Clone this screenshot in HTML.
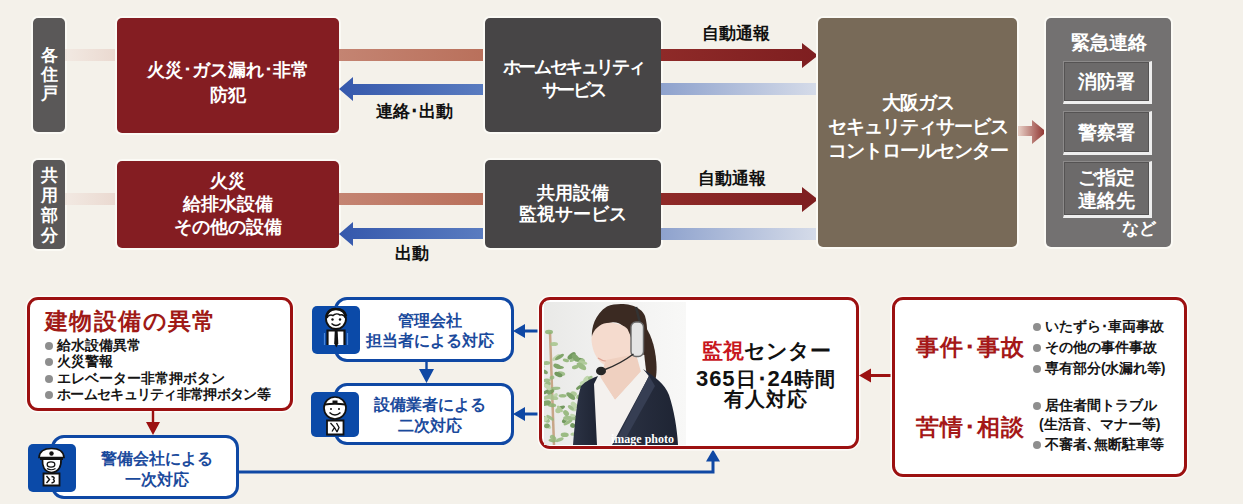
<!DOCTYPE html>
<html lang="ja">
<head>
<meta charset="utf-8">
<style>
html,body{margin:0;padding:0;}
body{width:1243px;height:504px;overflow:hidden;background:#f4f1ea;position:relative;font-family:"Liberation Serif",serif;}
.a{position:absolute;box-sizing:border-box;}
.glow{box-shadow:0 0 0 2px #fbfaf5;}
.lbl{background:#5a5858;border-radius:5px;color:#fff;font-size:17px;line-height:19px;text-align:center;font-weight:bold;}
.redbox{background:#841d22;border-radius:5px;color:#fff;font-size:18px;line-height:25px;font-weight:bold;text-align:center;display:flex;align-items:center;justify-content:center;}
.dkbox{background:#474546;border-radius:5px;color:#fff;font-size:18px;line-height:23px;font-weight:bold;text-align:center;display:flex;align-items:center;justify-content:center;}
.cap{color:#111;font-size:17px;line-height:20px;font-weight:bold;white-space:nowrap;text-align:center;}
.band{height:12px;}
.inner{border-top:1px solid #8c8a8a;border-left:1px solid #8c8a8a;border-right:3px solid #eeeeee;border-bottom:3px solid #eeeeee;box-shadow:inset 1px 1px 0 #555353,inset -1px -1px 0 #555353;background:#6c6a6a;color:#fff;font-size:19px;line-height:23px;font-weight:bold;text-align:center;display:flex;align-items:center;justify-content:center;}
.sans{font-family:"Liberation Sans",sans-serif;}
.rbox{background:#fff;border:3px solid #9c1111;border-radius:11px;box-shadow:0 0 0 1.5px #fdfcf9;}
.bbox{background:#fff;border:3px solid #0f48a4;border-radius:13px;color:#1a4a9c;font-family:"Liberation Sans",sans-serif;font-size:16px;line-height:20.5px;font-weight:bold;text-align:center;display:flex;align-items:center;justify-content:center;}
.icon{background:#1b4f9d;border-radius:6px;}
.blist{font-family:"Liberation Sans",sans-serif;color:#151515;font-size:14px;line-height:16.4px;white-space:nowrap;font-weight:bold;}
.dot{display:inline-block;width:8px;height:8px;border-radius:50%;background:#8e8e8e;margin-right:4px;vertical-align:0px;}
</style>
</head>
<body>

<!-- ===== TOP SECTION ===== -->
<!-- left labels -->
<div class="a lbl glow" style="left:33px;top:18px;width:32px;height:114px;padding-top:28px;">各<br>住<br>戸</div>
<div class="a lbl glow" style="left:33px;top:160px;width:32px;height:89px;padding-top:6px;line-height:20px;">共<br>用<br>部<br>分</div>
<!-- faint bands -->
<div class="a band" style="left:65px;top:49px;width:52px;background:linear-gradient(90deg,#f2e9e2,#ead9d0);"></div>
<div class="a band" style="left:65px;top:193px;width:52px;background:linear-gradient(90deg,#f2e9e2,#ead9d0);"></div>

<!-- red boxes -->
<div class="a redbox glow" style="left:117px;top:18px;width:222px;height:115px;padding-top:15px;">火災･ガス漏れ･非常<br>防犯</div>
<div class="a redbox glow" style="left:117px;top:161px;width:222px;height:87px;line-height:23.2px;">火災<br>給排水設備<br>その他の設備</div>

<!-- salmon bands (red box -> dark box) -->
<div class="a band" style="left:339px;top:49px;width:146px;background:linear-gradient(90deg,#c48472,#b9705b);"></div>
<div class="a band" style="left:339px;top:193px;width:146px;background:linear-gradient(90deg,#c48472,#b9705b);"></div>

<!-- blue arrows left -->
<svg class="a" style="left:338px;top:76px;" width="147" height="26" viewBox="0 0 147 26">
<defs><linearGradient id="bg1" x1="0" x2="1"><stop offset="0" stop-color="#3558ac"/><stop offset="1" stop-color="#5a7cc0"/></linearGradient></defs>
<path d="M1 13 L15 1 L15 8 L147 8 L147 19 L15 19 L15 25 Z" fill="url(#bg1)"/>
</svg>
<svg class="a" style="left:338px;top:221px;" width="147" height="26" viewBox="0 0 147 26">
<path d="M1 13 L15 1 L15 7 L147 7 L147 18 L15 18 L15 25 Z" fill="url(#bg1)"/>
</svg>
<div class="a cap" style="left:364px;top:102px;width:100px;">連絡･出動</div>
<div class="a cap" style="left:362px;top:243.5px;width:100px;">出動</div>

<!-- dark boxes -->
<div class="a dkbox glow" style="left:485px;top:18px;width:176px;height:114px;padding-top:7px;letter-spacing:-2.4px;">ホームセキュリティ<br>サービス</div>
<div class="a dkbox glow" style="left:485px;top:160px;width:176px;height:88px;line-height:21px;">共用設備<br>監視サービス</div>

<!-- red arrows right -->
<svg class="a" style="left:661px;top:42px;" width="158" height="27" viewBox="0 0 158 27">
<defs><linearGradient id="rg1" x1="0" x2="1"><stop offset="0" stop-color="#8e2a28"/><stop offset="1" stop-color="#7e1e20"/></linearGradient></defs>
<path d="M0 7 L141 7 L141 1 L157 13.5 L141 26 L141 19 L0 19 Z" fill="url(#rg1)"/>
</svg>
<svg class="a" style="left:661px;top:186px;" width="158" height="27" viewBox="0 0 158 27">
<path d="M0 7 L141 7 L141 1 L157 13.5 L141 26 L141 19 L0 19 Z" fill="url(#rg1)"/>
</svg>
<div class="a cap" style="left:686px;top:24px;width:100px;">自動通報</div>
<div class="a cap" style="left:682px;top:169px;width:100px;">自動通報</div>

<!-- light blue bands -->
<div class="a band" style="left:661px;top:83px;width:157px;background:linear-gradient(90deg,#8ea2cd,#d6dce9);"></div>
<div class="a band" style="left:661px;top:228px;width:157px;background:linear-gradient(90deg,#8ea2cd,#d6dce9);"></div>

<!-- brown control center -->
<div class="a dkbox glow" style="left:818px;top:18px;width:199px;height:229px;background:#786a58;font-size:19px;line-height:24.3px;padding-bottom:11px;letter-spacing:-1px;">大阪ガス<br>セキュリティサービス<br>コントロールセンター</div>

<!-- arrow to emergency -->
<svg class="a" style="left:1018px;top:119px;" width="29" height="26" viewBox="0 0 29 26">
<defs><linearGradient id="rg2" x1="0" x2="1"><stop offset="0" stop-color="#e9d2c8"/><stop offset="1" stop-color="#8a2a26"/></linearGradient></defs>
<path d="M0 7 L14 7 L14 1 L28.5 13 L14 25 L14 17 L0 17 Z" fill="url(#rg2)"/>
</svg>

<!-- emergency box -->
<div class="a glow" style="left:1046px;top:18px;width:125px;height:229px;background:#737171;border-radius:5px;"></div>
<div class="a" style="left:1046px;top:31px;width:125px;text-align:center;color:#fff;font-size:19px;line-height:24px;font-weight:bold;">緊急連絡</div>
<div class="a inner" style="left:1063px;top:61px;width:89px;height:43px;">消防署</div>
<div class="a inner" style="left:1063px;top:111px;width:89px;height:44px;">警察署</div>
<div class="a inner" style="left:1063px;top:161px;width:89px;height:57px;">ご指定<br>連絡先</div>
<div class="a" style="left:1122px;top:219px;width:44px;color:#fff;font-size:17px;line-height:20px;font-weight:bold;">など</div>

<!-- ===== BOTTOM SECTION ===== -->
<div class="a rbox" style="left:27px;top:297px;width:266px;height:114px;"></div>
<div class="a sans" style="left:45px;top:307px;color:#a01a16;font-size:23px;line-height:28px;font-weight:bold;white-space:nowrap;letter-spacing:1.4px;">建物設備の異常</div>
<div class="a blist" style="left:45px;top:337px;">
<div><span class="dot"></span>給水設備異常</div>
<div><span class="dot"></span>火災警報</div>
<div><span class="dot"></span>エレベーター非常押ボタン</div>
<div style="letter-spacing:-0.7px"><span class="dot"></span>ホームセキュリティ非常押ボタン等</div>
</div>
<!-- red down arrow -->
<svg class="a" style="left:145px;top:410px;" width="16" height="26" viewBox="0 0 16 26">
<path d="M6.8 0 H9.2 V12 H15 L8 25 L1 12 H6.8 Z" fill="#9c1111"/>
</svg>

<!-- blue box 1st response -->
<div class="a bbox" style="left:51px;top:435px;width:188px;height:64px;padding-left:23px;padding-top:4px;line-height:21px;">警備会社による<br>一次対応</div>
<svg class="a" style="left:28px;top:444px;" width="48" height="48" viewBox="0 0 48 48">
<rect width="48" height="48" rx="5" fill="#0b4aa8"/>
<path d="M15.5 29.5 H31.5 V41.5 H15.5 Z" fill="#fff" stroke="#111" stroke-width="1.8"/>
<path d="M18.5 32 L21.5 35.5 L18.5 39 M23.5 32.5 Q27.5 33 25.5 35.5 Q28 38 23.5 39" stroke="#111" stroke-width="1.4" fill="none"/>
<path d="M14.5 15 C14 22 16 28 23.5 28.5 C31 28 33.5 22 33 15 Z" fill="#fff" stroke="#111" stroke-width="1.7"/>
<path d="M11 13.5 C11.5 7 17 4.5 23.5 4.5 C30 4.5 35.5 7 36 13.5 Z" fill="#fff" stroke="#111" stroke-width="1.7"/>
<path d="M12 13 H35 V16 H12 Z" fill="#111"/>
<circle cx="23.5" cy="9.5" r="2.2" fill="#111"/>
<ellipse cx="23" cy="20.5" rx="3.8" ry="2.6" fill="none" stroke="#111" stroke-width="1.3"/>
<path d="M19 24.5 Q23 27 27.5 24.5" stroke="#111" stroke-width="1.2" fill="none"/>
</svg>

<!-- line to center -->
<svg class="a" style="left:238px;top:448px;" width="486" height="26" viewBox="0 0 486 26">
<path d="M0 24 H475 V8" stroke="#0f48a4" stroke-width="3" fill="none"/>
<path d="M468 13.5 L475 1.5 L482 13.5 Z" fill="#0f48a4"/>
</svg>

<!-- management -->
<div class="a bbox" style="left:334px;top:297px;width:180px;height:65px;padding-left:12px;padding-top:3px;">管理会社<br>担当者による対応</div>
<svg class="a" style="left:312px;top:306px;" width="48" height="48" viewBox="0 0 48 48">
<rect width="48" height="48" rx="5" fill="#0b4aa8"/>
<path d="M12.5 27 V39 M35.5 27 V39" stroke="#4a86d8" stroke-width="1.2"/>
<path d="M15.5 39 V24.5 H32.5 V39" fill="#fff" stroke="#111" stroke-width="2.2"/>
<path d="M22.8 24 H25.6 L26.3 37.5 L24.3 41.5 L22.2 37.5 Z" fill="#111"/>
<circle cx="24" cy="13" r="10" fill="#fff" stroke="#111" stroke-width="1.8"/>
<path d="M15 12 C16 9 19 8.5 21 9.5 C23 7.5 26 7.5 28 9 C30 8.5 32.5 9.5 33.5 12" stroke="#111" stroke-width="1.6" fill="none"/>
<path d="M14.5 11 C15 5 20 2.5 24 3 C29 3 33 5.5 34 10" stroke="#111" stroke-width="2.6" fill="none"/>
<circle cx="20.5" cy="13.5" r="1.2" fill="#111"/><circle cx="28" cy="13.5" r="1.2" fill="#111"/>
<path d="M19.5 17.5 Q24 21.5 28.5 17.5" stroke="#111" stroke-width="1.4" fill="none"/>
</svg>
<svg class="a" style="left:418px;top:360px;" width="17" height="24" viewBox="0 0 17 24">
<path d="M7.3 0 H9.7 V9 H16 L8.5 23 L1 9 H7.3 Z" fill="#0f48a4"/>
</svg>
<div class="a bbox" style="left:334px;top:383px;width:180px;height:62px;padding-left:12px;padding-top:3px;">設備業者による<br>二次対応</div>
<svg class="a" style="left:311px;top:392px;" width="48" height="45" viewBox="0 0 48 45">
<rect width="48" height="45" rx="5" fill="#0b4aa8"/>
<path d="M16 28.5 H32.5 V42.5 H16 Z" fill="#fff" stroke="#111" stroke-width="1.8"/>
<path d="M19.5 31 L23.5 35.5 L21 39.5 M25.5 31 L28 35.5 L26 40 M23.5 35.5 L26 40" stroke="#111" stroke-width="1.3" fill="none"/>
<circle cx="24" cy="16" r="11" fill="#fff" stroke="#111" stroke-width="1.7"/>
<path d="M13.5 12.5 Q24 11 34.5 12.5" stroke="#111" stroke-width="2.2" fill="none"/>
<path d="M21.5 8.5 H26.5 V11.5 H21.5 Z" fill="#111"/>
<circle cx="20" cy="17" r="1" fill="#111"/><circle cx="28" cy="17" r="1" fill="#111"/>
<path d="M18.5 20.5 Q24 25.5 29.5 20.5" stroke="#111" stroke-width="1.5" fill="none"/>
</svg>

<!-- left arrows from center -->
<svg class="a" style="left:512px;top:322px;" width="30" height="18" viewBox="0 0 30 18">
<path d="M29 7.5 V10.5 H13 V16 L1 9 L13 2 V7.5 Z" fill="#0f48a4"/>
</svg>
<svg class="a" style="left:512px;top:405px;" width="30" height="18" viewBox="0 0 30 18">
<path d="M29 7.5 V10.5 H13 V16 L1 9 L13 2 V7.5 Z" fill="#0f48a4"/>
</svg>

<!-- center box -->
<div class="a rbox" style="left:539px;top:297px;width:320px;height:152px;"></div>
<svg class="a" style="left:544px;top:302px;" width="142" height="143" viewBox="0 0 142 143">
<defs>
<linearGradient id="pbg" x1="0" x2="1"><stop offset="0" stop-color="#e9e9e7"/><stop offset="0.45" stop-color="#f1f1f0"/><stop offset="1" stop-color="#f8f8f7"/></linearGradient>
<linearGradient id="suit" x1="0" x2="1"><stop offset="0" stop-color="#2c3345"/><stop offset="1" stop-color="#1e2433"/></linearGradient>
</defs>
<rect width="142" height="143" fill="url(#pbg)"/>
<!-- plant -->
<path d="M6 30 L10 143" stroke="#c8a688" stroke-width="2.5"/>
<g opacity="0.85">
<ellipse cx="15.5" cy="65.3" rx="4.5" ry="1.6" fill="#6f9a56" transform="rotate(4 15.5 65.3)"/>
<ellipse cx="29.5" cy="132.1" rx="3.1" ry="1.6" fill="#a6c58c" transform="rotate(-8 29.5 132.1)"/>
<ellipse cx="2.9" cy="89.4" rx="5.0" ry="1.7" fill="#5f8c48" transform="rotate(-28 2.9 89.4)"/>
<ellipse cx="29.5" cy="57.4" rx="4.3" ry="1.6" fill="#94b87c" transform="rotate(-28 29.5 57.4)"/>
<ellipse cx="44.4" cy="77.5" rx="2.9" ry="1.7" fill="#5f8c48" transform="rotate(-19 44.4 77.5)"/>
<ellipse cx="7.8" cy="103.2" rx="4.4" ry="2.0" fill="#8db372" transform="rotate(5 7.8 103.2)"/>
<ellipse cx="28.5" cy="106.5" rx="4.0" ry="2.2" fill="#b9d3a4" transform="rotate(28 28.5 106.5)"/>
<ellipse cx="29.6" cy="91.9" rx="3.4" ry="2.5" fill="#a6c58c" transform="rotate(20 29.6 91.9)"/>
<ellipse cx="2.4" cy="78.4" rx="4.0" ry="1.9" fill="#94b87c" transform="rotate(-5 2.4 78.4)"/>
<ellipse cx="20.6" cy="118.6" rx="3.0" ry="2.1" fill="#5f8c48" transform="rotate(-46 20.6 118.6)"/>
<ellipse cx="2.2" cy="101.1" rx="4.9" ry="2.6" fill="#6f9a56" transform="rotate(-16 2.2 101.1)"/>
<ellipse cx="30.1" cy="103.0" rx="3.9" ry="2.6" fill="#b9d3a4" transform="rotate(44 30.1 103.0)"/>
<ellipse cx="35.6" cy="57.7" rx="4.7" ry="1.9" fill="#5f8c48" transform="rotate(8 35.6 57.7)"/>
<ellipse cx="42.4" cy="77.0" rx="3.7" ry="2.4" fill="#b9d3a4" transform="rotate(-48 42.4 77.0)"/>
<ellipse cx="17.2" cy="105.8" rx="4.0" ry="1.8" fill="#5f8c48" transform="rotate(-21 17.2 105.8)"/>
<ellipse cx="11.4" cy="86.4" rx="5.1" ry="1.6" fill="#94b87c" transform="rotate(-5 11.4 86.4)"/>
<ellipse cx="13.0" cy="64.0" rx="3.8" ry="2.2" fill="#6f9a56" transform="rotate(21 13.0 64.0)"/>
<ellipse cx="34.9" cy="85.5" rx="3.2" ry="1.6" fill="#5f8c48" transform="rotate(-35 34.9 85.5)"/>
<ellipse cx="10.6" cy="94.7" rx="4.3" ry="1.8" fill="#b9d3a4" transform="rotate(-50 10.6 94.7)"/>
<ellipse cx="26.9" cy="105.7" rx="3.5" ry="1.7" fill="#94b87c" transform="rotate(36 26.9 105.7)"/>
<ellipse cx="33.4" cy="117.1" rx="3.9" ry="2.6" fill="#5f8c48" transform="rotate(45 33.4 117.1)"/>
<ellipse cx="41.1" cy="86.5" rx="3.7" ry="1.6" fill="#8db372" transform="rotate(13 41.1 86.5)"/>
<ellipse cx="8.3" cy="138.7" rx="3.8" ry="1.6" fill="#8db372" transform="rotate(10 8.3 138.7)"/>
<ellipse cx="-2.0" cy="65.3" rx="2.8" ry="2.0" fill="#a6c58c" transform="rotate(-47 -2.0 65.3)"/>
<ellipse cx="31.2" cy="65.1" rx="3.3" ry="2.0" fill="#8db372" transform="rotate(-14 31.2 65.1)"/>
<ellipse cx="4.2" cy="94.9" rx="5.4" ry="2.1" fill="#a6c58c" transform="rotate(-19 4.2 94.9)"/>
<ellipse cx="3.5" cy="82.2" rx="3.3" ry="2.6" fill="#8db372" transform="rotate(-34 3.5 82.2)"/>
<ellipse cx="9.1" cy="135.8" rx="3.6" ry="2.4" fill="#94b87c" transform="rotate(41 9.1 135.8)"/>
<ellipse cx="14.1" cy="108.6" rx="2.8" ry="2.6" fill="#a6c58c" transform="rotate(2 14.1 108.6)"/>
<ellipse cx="17.2" cy="71.6" rx="4.1" ry="2.2" fill="#94b87c" transform="rotate(14 17.2 71.6)"/>
<ellipse cx="41.8" cy="138.7" rx="5.1" ry="2.5" fill="#5f8c48" transform="rotate(32 41.8 138.7)"/>
<ellipse cx="24.6" cy="116.3" rx="5.5" ry="2.5" fill="#a6c58c" transform="rotate(-3 24.6 116.3)"/>
<ellipse cx="35.4" cy="136.2" rx="3.8" ry="2.7" fill="#6f9a56" transform="rotate(49 35.4 136.2)"/>
<ellipse cx="2.3" cy="61.0" rx="3.9" ry="1.9" fill="#94b87c" transform="rotate(-2 2.3 61.0)"/>
<ellipse cx="43.4" cy="94.2" rx="4.5" ry="2.5" fill="#5f8c48" transform="rotate(-42 43.4 94.2)"/>
<ellipse cx="4.5" cy="86.2" rx="4.6" ry="1.8" fill="#b9d3a4" transform="rotate(39 4.5 86.2)"/>
<ellipse cx="40.6" cy="81.3" rx="4.9" ry="2.8" fill="#b9d3a4" transform="rotate(-10 40.6 81.3)"/>
<ellipse cx="38.1" cy="59.5" rx="3.0" ry="2.8" fill="#94b87c" transform="rotate(-47 38.1 59.5)"/>
<ellipse cx="46.9" cy="123.0" rx="2.9" ry="2.6" fill="#5f8c48" transform="rotate(48 46.9 123.0)"/>
<ellipse cx="27.6" cy="53.9" rx="4.9" ry="2.4" fill="#5f8c48" transform="rotate(-40 27.6 53.9)"/>
<ellipse cx="48.4" cy="90.2" rx="5.1" ry="2.6" fill="#6f9a56" transform="rotate(-29 48.4 90.2)"/>
<ellipse cx="9.5" cy="96.1" rx="4.8" ry="1.9" fill="#a6c58c" transform="rotate(4 9.5 96.1)"/>
<ellipse cx="1.3" cy="117.1" rx="5.2" ry="2.4" fill="#94b87c" transform="rotate(32 1.3 117.1)"/>
<ellipse cx="20.7" cy="132.8" rx="4.0" ry="2.2" fill="#8db372" transform="rotate(2 20.7 132.8)"/>
<ellipse cx="45.1" cy="120.3" rx="4.3" ry="2.5" fill="#a6c58c" transform="rotate(-35 45.1 120.3)"/>
<ellipse cx="23.6" cy="115.8" rx="4.2" ry="1.9" fill="#94b87c" transform="rotate(2 23.6 115.8)"/>
<ellipse cx="24.1" cy="120.3" rx="5.1" ry="1.6" fill="#8db372" transform="rotate(-31 24.1 120.3)"/>
<ellipse cx="39.7" cy="96.7" rx="4.2" ry="2.5" fill="#b9d3a4" transform="rotate(41 39.7 96.7)"/>
<ellipse cx="15.6" cy="137.7" rx="4.3" ry="1.8" fill="#94b87c" transform="rotate(-22 15.6 137.7)"/>
<ellipse cx="26.8" cy="94.1" rx="5.3" ry="2.4" fill="#6f9a56" transform="rotate(38 26.8 94.1)"/>
<ellipse cx="47.8" cy="130.6" rx="3.1" ry="2.1" fill="#b9d3a4" transform="rotate(-8 47.8 130.6)"/>
<ellipse cx="21.9" cy="58.4" rx="3.2" ry="1.6" fill="#8db372" transform="rotate(17 21.9 58.4)"/>
<ellipse cx="36.7" cy="110.1" rx="2.9" ry="2.6" fill="#a6c58c" transform="rotate(47 36.7 110.1)"/>
<ellipse cx="38.3" cy="60.3" rx="5.2" ry="1.7" fill="#a6c58c" transform="rotate(17 38.3 60.3)"/>
<ellipse cx="6.7" cy="90.0" rx="4.0" ry="1.9" fill="#6f9a56" transform="rotate(-30 6.7 90.0)"/>
<ellipse cx="3.0" cy="84.2" rx="3.5" ry="2.1" fill="#b9d3a4" transform="rotate(20 3.0 84.2)"/>
<ellipse cx="15.9" cy="106.9" rx="4.0" ry="1.6" fill="#a6c58c" transform="rotate(49 15.9 106.9)"/>
<ellipse cx="12.3" cy="55.5" rx="4.8" ry="1.9" fill="#b9d3a4" transform="rotate(-37 12.3 55.5)"/>
<ellipse cx="43.9" cy="111.5" rx="5.3" ry="2.0" fill="#94b87c" transform="rotate(4 43.9 111.5)"/>
<ellipse cx="28.8" cy="113.6" rx="2.8" ry="1.6" fill="#b9d3a4" transform="rotate(19 28.8 113.6)"/>
<ellipse cx="46.3" cy="75.7" rx="2.6" ry="1.6" fill="#94b87c" transform="rotate(-24 46.3 75.7)"/>
<ellipse cx="44.6" cy="91.9" rx="3.5" ry="2.2" fill="#6f9a56" transform="rotate(43 44.6 91.9)"/>
<ellipse cx="31.6" cy="55.8" rx="4.6" ry="2.7" fill="#6f9a56" transform="rotate(47 31.6 55.8)"/>
<ellipse cx="0.7" cy="69.8" rx="3.4" ry="1.9" fill="#6f9a56" transform="rotate(26 0.7 69.8)"/>
<ellipse cx="22.1" cy="111.1" rx="3.3" ry="2.5" fill="#8db372" transform="rotate(49 22.1 111.1)"/>
<ellipse cx="-1.2" cy="116.5" rx="4.2" ry="1.7" fill="#b9d3a4" transform="rotate(-3 -1.2 116.5)"/>
<ellipse cx="3.7" cy="124.1" rx="3.8" ry="2.1" fill="#b9d3a4" transform="rotate(33 3.7 124.1)"/>
<ellipse cx="50.4" cy="79.1" rx="3.1" ry="1.8" fill="#5f8c48" transform="rotate(-30 50.4 79.1)"/>
<ellipse cx="37.4" cy="64.3" rx="5.5" ry="2.8" fill="#8db372" transform="rotate(34 37.4 64.3)"/>
<ellipse cx="1.8" cy="117.2" rx="3.3" ry="1.7" fill="#b9d3a4" transform="rotate(-42 1.8 117.2)"/>
<ellipse cx="45.0" cy="111.0" rx="3.3" ry="1.8" fill="#b9d3a4" transform="rotate(-21 45.0 111.0)"/>
<ellipse cx="8.0" cy="75.7" rx="2.5" ry="2.0" fill="#94b87c" transform="rotate(-17 8.0 75.7)"/>
<ellipse cx="15.5" cy="55.0" rx="5.1" ry="1.8" fill="#6f9a56" transform="rotate(-32 15.5 55.0)"/>
<ellipse cx="18.6" cy="93.8" rx="4.0" ry="1.8" fill="#8db372" transform="rotate(0 18.6 93.8)"/>
<ellipse cx="2.9" cy="123.9" rx="2.9" ry="2.3" fill="#6f9a56" transform="rotate(-11 2.9 123.9)"/>
<ellipse cx="14.4" cy="72.5" rx="4.3" ry="2.2" fill="#5f8c48" transform="rotate(25 14.4 72.5)"/>
<ellipse cx="46.2" cy="121.0" rx="4.3" ry="2.5" fill="#b9d3a4" transform="rotate(22 46.2 121.0)"/>
<ellipse cx="6.1" cy="115.7" rx="4.4" ry="1.6" fill="#94b87c" transform="rotate(34 6.1 115.7)"/>
<ellipse cx="31.9" cy="116.6" rx="4.9" ry="1.7" fill="#94b87c" transform="rotate(2 31.9 116.6)"/>
<ellipse cx="28.7" cy="123.5" rx="2.5" ry="2.4" fill="#5f8c48" transform="rotate(30 28.7 123.5)"/>
<ellipse cx="34.9" cy="113.0" rx="3.2" ry="1.5" fill="#6f9a56" transform="rotate(-37 34.9 113.0)"/>
<ellipse cx="49.8" cy="85.1" rx="3.9" ry="1.6" fill="#94b87c" transform="rotate(-48 49.8 85.1)"/>
<ellipse cx="34.8" cy="95.1" rx="2.5" ry="2.5" fill="#94b87c" transform="rotate(25 34.8 95.1)"/>
<ellipse cx="5" cy="30" rx="4" ry="2.2" fill="#8db372"/>
<ellipse cx="10" cy="42" rx="4" ry="2" fill="#a6c58c"/>
</g>
<!-- ponytail -->
<path d="M99 22 C106 30 111 42 112.4 61 C113 70 112 76 110.8 80 L104 80 C102 70 101 60 100 50 Z" fill="#3b2a22"/>
<!-- hair -->
<path d="M48 36 C47 26 51 12 63 4.5 C70 1.5 80 1.5 86 3 C94 5 99 9 101 14 C104 24 104 40 101 53 L88 50 C88 40 86 30 80 25 C76 21 72 20 68 20.4 C60 21 53 28 48 36 Z" fill="#3b2a22"/>
<!-- face -->
<path d="M47.4 37 C48 30 53 24 60 21.5 C68 19.5 78 22 83.5 27 C87 34 89.5 42 89.7 50 C89.5 57 87 62 83 64 C76 67 66 67 59 62 C52 57 48 48 47.4 37 Z" fill="#f5dbce"/>
<path d="M54 56 Q61 61 68 59" stroke="#e0a696" stroke-width="1.4" fill="none"/>
<!-- neck -->
<path d="M62 58 L92 52 L97 70 L71 98 L56 76 Z" fill="#efd0c0"/>
<!-- headset -->
<path d="M92 5 L96 21" stroke="#333" stroke-width="2.5"/>
<rect x="87" y="20" width="12.5" height="34.5" rx="5" fill="#e4e4e4" stroke="#6a6a6a" stroke-width="1.4"/>
<path d="M89.5 52 Q76 62 61 67.5" stroke="#2a2a2a" stroke-width="1.4" fill="none"/>
<ellipse cx="57" cy="69" rx="5" ry="4.3" fill="#262626"/>
<!-- shirt -->
<path d="M55 73 L71 98 L99 67 L105 74 L70 143 L52 143 L49 82 Z" fill="#f4f1ee"/>
<!-- suit -->
<path d="M29 143 C31 120 33 96 37 84 C42 79 48 76 54 74 L50 82 L53 143 Z" fill="url(#suit)"/>
<path d="M99 67 C110 74 121 82 125 93 C130 108 133 126 134 143 L68 143 L105 74 Z" fill="url(#suit)"/>
<path d="M105 74 L111 84 L78 143 L70 143 Z" fill="#363e53"/>
<text x="67" y="141" fill="#fff" font-family="Liberation Serif" font-size="12" font-weight="bold">image photo</text>
</svg>
<div class="a sans" style="left:686px;top:337px;width:160px;text-align:center;font-size:20.5px;line-height:28px;font-weight:bold;white-space:nowrap;"><span style="color:#c8161d">監視</span><span style="color:#111;">センター</span></div>
<div class="a sans" style="left:676px;top:369px;width:180px;text-align:center;font-size:19.5px;line-height:20px;font-weight:bold;color:#111;white-space:nowrap;letter-spacing:1px;"><span style="font-size:22px">365</span>日･<span style="font-size:22px">24</span>時間<br>有人対応</div>

<!-- right arrow into center -->
<svg class="a" style="left:857px;top:366px;" width="38" height="18" viewBox="0 0 38 18">
<path d="M37 8 V11 H14 V16.5 L2 9.5 L14 2.5 V8 Z" fill="#9c1111"/>
</svg>

<!-- right box -->
<div class="a rbox" style="left:892px;top:297px;width:295px;height:180px;"></div>
<div class="a sans" style="left:916px;top:333px;color:#a51818;font-size:23px;line-height:28px;font-weight:bold;white-space:nowrap;letter-spacing:0.9px;">事件･事故</div>
<div class="a sans" style="left:916px;top:413px;color:#a51818;font-size:23px;line-height:28px;font-weight:bold;white-space:nowrap;letter-spacing:0.9px;">苦情･相談</div>
<div class="a blist" style="left:1033px;top:316px;line-height:21px;">
<div><span class="dot"></span>いたずら･車両事故</div>
<div><span class="dot"></span>その他の事件事故</div>
<div><span class="dot"></span>専有部分<span style="letter-spacing:-1px">(</span>水漏れ等)</div>
</div>
<div class="a blist" style="left:1033px;top:396px;line-height:19.4px;">
<div><span class="dot"></span>居住者間トラブル</div>
<div style="padding-left:6px;">(生活音、マナー等)</div>
<div><span class="dot"></span>不審者､無断駐車等</div>
</div>

</body>
</html>
